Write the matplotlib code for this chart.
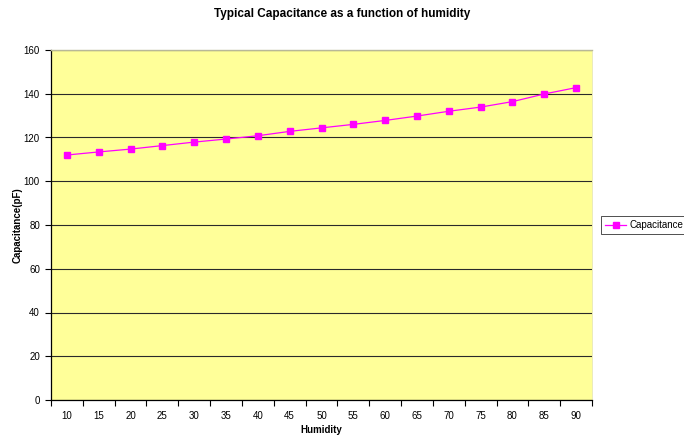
import matplotlib
matplotlib.use("Agg")
import matplotlib.pyplot as plt

plt.rcParams['font.family'] = ['Liberation Sans', 'DejaVu Sans']

humidity = [10, 15, 20, 25, 30, 35, 40, 45, 50, 55, 60, 65, 70, 75, 80, 85, 90]
capacitance = [112.0, 113.4, 114.7, 116.3, 117.9, 119.3, 120.8, 122.8, 124.4,
               126.0, 127.8, 129.8, 132.0, 133.9, 136.4, 139.9, 142.8]
y_ticks = [0, 20, 40, 60, 80, 100, 120, 140, 160]

fig = plt.figure(figsize=(6.84, 4.40), dpi=100)
ax = fig.add_axes([51 / 684, 40 / 440, 541 / 684, 350 / 440])
ax.set_facecolor('#FFFF99')

pos = list(range(len(humidity)))
line, = ax.plot(pos, capacitance, color='#FF00FF', lw=0.9, marker='s',
                markersize=5, markerfacecolor='#FF00FF', markeredgecolor='#FF00FF',
                label='Capacitance', zorder=3)

ax.set_xlim(-0.5, len(humidity) - 0.5)
ax.set_ylim(0, 160)
ax.set_yticks(y_ticks)
ax.set_yticklabels([str(v) for v in y_ticks], fontsize=7)
ax.yaxis.grid(True, color='#2a2a2a', lw=0.8)
ax.set_axisbelow(True)

# category axis: labels at category centres, tick marks on the boundaries
ax.set_xticks(pos)
ax.set_xticklabels([str(h) for h in humidity], fontsize=7)
ax.tick_params(axis='x', which='major', length=0, pad=8)
ax.set_xticks([p - 0.5 for p in pos] + [len(pos) - 0.5], minor=True)
ax.tick_params(axis='x', which='minor', length=4, width=0.8, direction='out')
ax.tick_params(axis='y', length=4, width=0.8, direction='out', pad=4)

ax.spines['top'].set_color('#b8b898')
ax.spines['top'].set_linewidth(1.0)
ax.spines['right'].set_color('#e8e8b0')
ax.spines['right'].set_linewidth(0.6)
for side in ('left', 'bottom'):
    ax.spines[side].set_color('#000000')
    ax.spines[side].set_linewidth(0.9)

ax.set_xlabel('Humidity', fontsize=7, fontweight='bold', labelpad=3)
ax.set_ylabel('Capacitance(pF)', fontsize=7, fontweight='bold')
ax.yaxis.set_label_coords(-0.053, 0.5)
fig.text(0.5, 1 - 14 / 440, 'Typical Capacitance as a function of humidity',
         ha='center', va='center', fontsize=8.5, fontweight='bold')

leg = fig.legend(handles=[line], loc='center left',
                 bbox_to_anchor=(601 / 684, 1 - 225 / 440), fontsize=7,
                 frameon=True, fancybox=False, handlelength=2.2,
                 handletextpad=0.3, borderpad=0.4, borderaxespad=0)
leg.get_frame().set_edgecolor('#000000')
leg.get_frame().set_linewidth(0.6)

fig.savefig('out.png', dpi=100)
